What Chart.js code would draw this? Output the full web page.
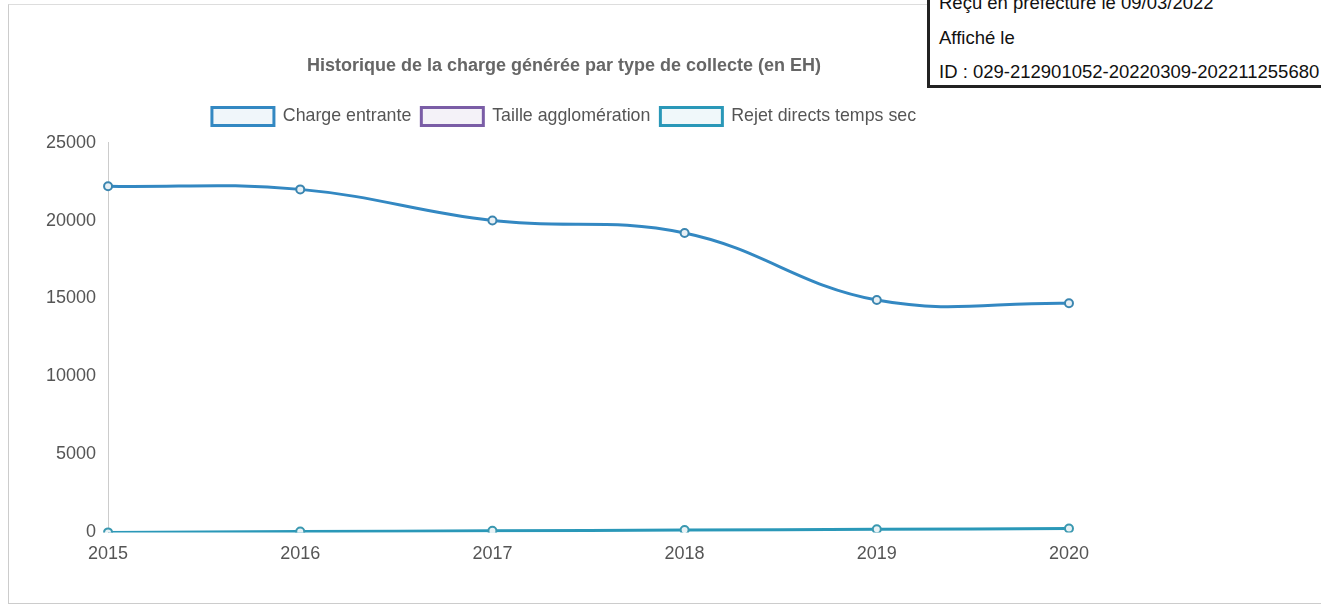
<!DOCTYPE html>
<html><head><meta charset="utf-8">
<script src="https://cdn.jsdelivr.net/npm/chart.js@4.4.1/dist/chart.umd.min.js"></script>
<style>
html,body{margin:0;padding:0;background:#fff;width:1321px;height:606px;overflow:hidden;font-family:"Liberation Sans",Arial,sans-serif;}
#page{position:absolute;left:8px;top:4px;width:1330px;height:598px;border-left:1px solid #ccc;border-top:1px solid #ddd;border-bottom:1px solid #ccc;}
#wrap{position:absolute;left:40px;top:47px;width:1060px;height:529px;}
#stamp{position:absolute;left:927px;top:-10px;width:400px;height:95px;border-left:3px solid #222;border-bottom:3px solid #222;background:#fff;font-size:18.5px;color:#111;}
#stamp div{position:absolute;left:9px;white-space:nowrap;}
</style></head>
<body>
<div id="page"></div>
<div id="wrap"><canvas id="c"></canvas></div>
<div id="stamp">
<div style="top:2px">Reçu en préfecture le 09/03/2022</div>
<div style="top:37px">Affiché le</div>
<div style="top:71px">ID : 029-212901052-20220309-202211255680</div>
</div>
<script>
const years = ["2015","2016","2017","2018","2019","2020"];
const chargeEntrante = [22200, 22000, 20000, 19200, 14900, 14700];
const tailleAgglomeration = [null, null, null, null, null, null];
const rejetDirects = [0, 50, 100, 150, 200, 250];
const yTicks = [0, 5000, 10000, 15000, 20000, 25000];

const FONT = '"Liberation Sans", Arial, sans-serif';
const legendMargin = {id:'legendMargin', beforeInit(chart){ const fit = chart.legend.fit; chart.legend.fit = function(){ fit.bind(chart.legend)(); this.height += 7; }; }};
const ctx = document.getElementById('c');
new Chart(ctx, {
  type: 'line',
  data: {
    labels: years,
    datasets: [
      {label:'Charge entrante', data: chargeEntrante, borderColor:'#3388c2', backgroundColor:'rgba(240,246,250,1)', borderWidth:3, pointRadius:4, pointBackgroundColor:'#e8f0f5', pointBorderColor:'#3b86b0', pointBorderWidth:2, tension:0.4, fill:false},
      {label:'Taille agglomération', data: tailleAgglomeration, borderColor:'#7a5da6', backgroundColor:'rgba(244,242,248,1)', borderWidth:3, pointRadius:4, tension:0.4, fill:false},
      {label:'Rejet directs temps sec', data: rejetDirects, borderColor:'#2a98b8', backgroundColor:'rgba(240,248,250,1)', borderWidth:3, pointRadius:4, pointBackgroundColor:'#e8f2f5', pointBorderColor:'#3a98b0', pointBorderWidth:2, tension:0.4, fill:false}
    ]
  },
  plugins:[legendMargin],
  options: {
    responsive:true, maintainAspectRatio:false, animation:false,
    layout:{padding:{left:0,right:12,top:0,bottom:0}},
    plugins:{
      title:{display:true, text:'Historique de la charge générée par type de collecte (en EH)', color:'#666', font:{family:FONT, size:18, weight:'bold'}, padding:{top:8,bottom:21}},
      legend:{labels:{boxWidth:62, boxHeight:18, color:'#555', font:{family:FONT, size:17.8}, padding:10}},
      tooltip:{enabled:false}
    },
    scales:{
      x:{grid:{display:false, drawTicks:false}, border:{display:false}, ticks:{color:'#555', font:{family:FONT, size:18}, padding:11, maxRotation:0}},
      y:{min:0, max:25000, afterBuildTicks:(ax)=>{ax.ticks = yTicks.map(v=>({value:v}));}, grid:{display:false, drawTicks:true, tickLength:6, tickColor:'#bbb'}, border:{display:true, color:'#ccc', dash:[2,3]}, ticks:{color:'#555', font:{family:FONT, size:18}, padding:6, callback:(v)=>String(v)}}
    }
  }
});
</script>
</body></html>
